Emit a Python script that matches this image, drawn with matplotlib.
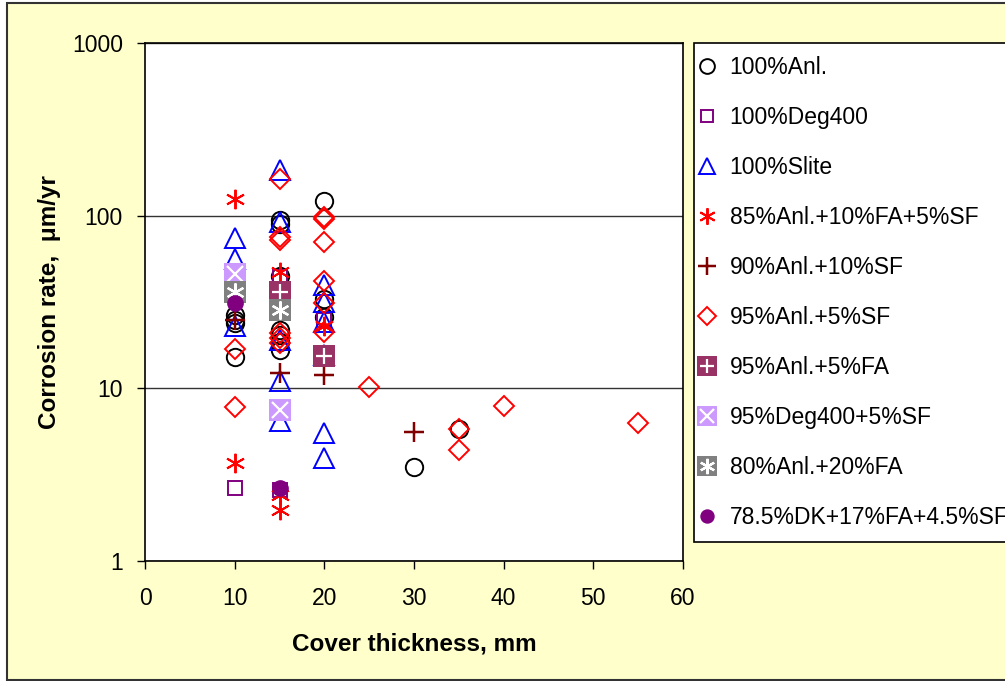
"""Corrosion rate vs cover thickness scatter."""

import matplotlib

matplotlib.use("Agg")
import matplotlib.pyplot as plt
from matplotlib.legend_handler import HandlerTuple
from matplotlib.patches import Rectangle
from matplotlib.ticker import FixedLocator, FixedFormatter

plt.rcParams["font.family"] = ["Liberation Sans", "DejaVu Sans"]

# series: cover thickness (mm) and corrosion rate (um/yr)
anl_x = [10, 10, 10, 10, 15, 15, 15, 15, 15, 15, 15, 20, 20, 20, 30, 35]
anl_y = [26.5, 24.8, 23.8, 15.2, 94, 45, 21.8, 20.4, 18.6, 16.7, 90, 122, 33, 25.9, 3.5, 5.8]

deg_x = [10, 15, 15, 20]
deg_y = [2.64, 2.58, 44, 25]

slite_x = [10, 10, 10, 15, 15, 15, 15, 15, 20, 20, 20, 20, 20, 20]
slite_y = [74, 56, 23, 185, 92, 19, 11.1, 6.5, 39.5, 31.7, 24.3, 15.5, 5.5, 3.93]

ast_x = [10, 10, 15, 15, 15, 20]
ast_y = [125, 3.7, 47, 2.4, 1.97, 23]

sf10_x = [10, 15, 20, 30]
sf10_y = [24.8, 12.3, 12.0, 5.6]

sf5_x = [10, 10, 15, 15, 15, 15, 15, 15, 20, 20, 20, 20, 20, 20, 25, 35, 35, 40, 55]
sf5_y = [16.8, 7.8, 164, 75, 72, 20.8, 19.5, 18.2, 98, 96, 70, 42, 31, 21.3, 10.2, 5.8, 4.4, 7.9, 6.3]

fa5_x = [15, 20]
fa5_y = [36, 15.3]

degsf_x = [10, 15]
degsf_y = [46, 7.5]

fa20_x = [10, 15]
fa20_y = [36, 28.4]

dk_x = [10, 15]
dk_y = [31, 2.65]

labels = [
    "100%Anl.", "100%Deg400", "100%Slite", "85%Anl.+10%FA+5%SF",
    "90%Anl.+10%SF", "95%Anl.+5%SF", "95%Anl.+5%FA", "95%Deg400+5%SF",
    "80%Anl.+20%FA", "78.5%DK+17%FA+4.5%SF",
]

fig = plt.figure(figsize=(10.05, 6.81), dpi=100)
fig.patches.append(Rectangle((7 / 1005, 1 / 681), 1.2, 677 / 681, transform=fig.transFigure,
                             facecolor="#FFFFCC", edgecolor="#333333", linewidth=1.5, zorder=-10))
ax = fig.add_axes([145 / 1005, 1 - 561 / 681, 538 / 1005, 518 / 681])
ax.set_facecolor("white")

mew = 1.4
h = []
h.append(ax.plot(anl_x, anl_y, "o", ms=12.5, mfc="none", mec="black", mew=mew)[0])
h.append(ax.plot(deg_x, deg_y, "s", ms=10, mfc="none", mec="#800080", mew=mew)[0])
h.append(ax.plot(slite_x, slite_y, "^", ms=14, mfc="none", mec="#0000FF", mew=mew)[0])
h.append(ax.plot(ast_x, ast_y, marker=(6, 2, 0), ls="none", ms=14, mec="#FF0000", mew=mew)[0])
h.append(ax.plot(sf10_x, sf10_y, "+", ms=15, mec="#800000", mew=mew + 0.4)[0])
h.append(ax.plot(sf5_x, sf5_y, "D", ms=10.5, mfc="none", mec="#FF0000", mew=mew)[0])


def boxed(xs, ys, color, inner, inner_size):
    box = ax.plot(xs, ys, "s", ms=16.5, mfc=color, mec=color, mew=0)[0]
    mark = ax.plot(xs, ys, marker=inner, ls="none", ms=inner_size, mec="white", mew=1.6)[0]
    return (box, mark)


h.append(boxed(fa5_x, fa5_y, "#993366", "+", 12))
h.append(boxed(degsf_x, degsf_y, "#CC99FF", "x", 12))
h.append(boxed(fa20_x, fa20_y, "#808080", (6, 2, 0), 13))
h.append(ax.plot(dk_x, dk_y, "o", ms=11, mfc="#800080", mec="#800080")[0])

ax.set_yscale("log")
ax.set_ylim(1, 1000)
ax.set_xlim(0, 60)
ax.set_xticks(range(0, 61, 10))
ax.yaxis.set_major_locator(FixedLocator([1, 10, 100, 1000]))
ax.yaxis.set_major_formatter(FixedFormatter(["1", "10", "100", "1000"]))
ax.yaxis.set_minor_locator(FixedLocator([]))
ax.grid(axis="y", which="major", color="#333333", linewidth=1)
ax.set_axisbelow(True)
for side in ax.spines.values():
    side.set_color("black")
    side.set_linewidth(1.2)
ax.tick_params(axis="both", direction="out", length=6, width=1, labelsize=16.5)
ax.tick_params(axis="y", pad=10)
ax.tick_params(axis="x", pad=13)

ax.set_xlabel("Cover thickness, mm", fontsize=17.5, fontweight="bold", labelpad=16)
ax.set_ylabel("Corrosion rate,  \u03bcm/yr", fontsize=17.5, fontweight="bold", labelpad=8)

leg = fig.legend(h, labels, loc="upper left", bbox_to_anchor=(694 / 1005, 1 - 43 / 681),
                 fontsize=16.5, frameon=True, fancybox=False, framealpha=1, edgecolor="black",
                 labelspacing=1.18, handlelength=0, handletextpad=1.0, borderpad=0.55,
                 borderaxespad=0, markerscale=0.85,
                 handler_map={tuple: HandlerTuple(ndivide=1, pad=0)})
leg.get_frame().set_linewidth(1.2)

fig.savefig("out.png", dpi=100, facecolor="white")
